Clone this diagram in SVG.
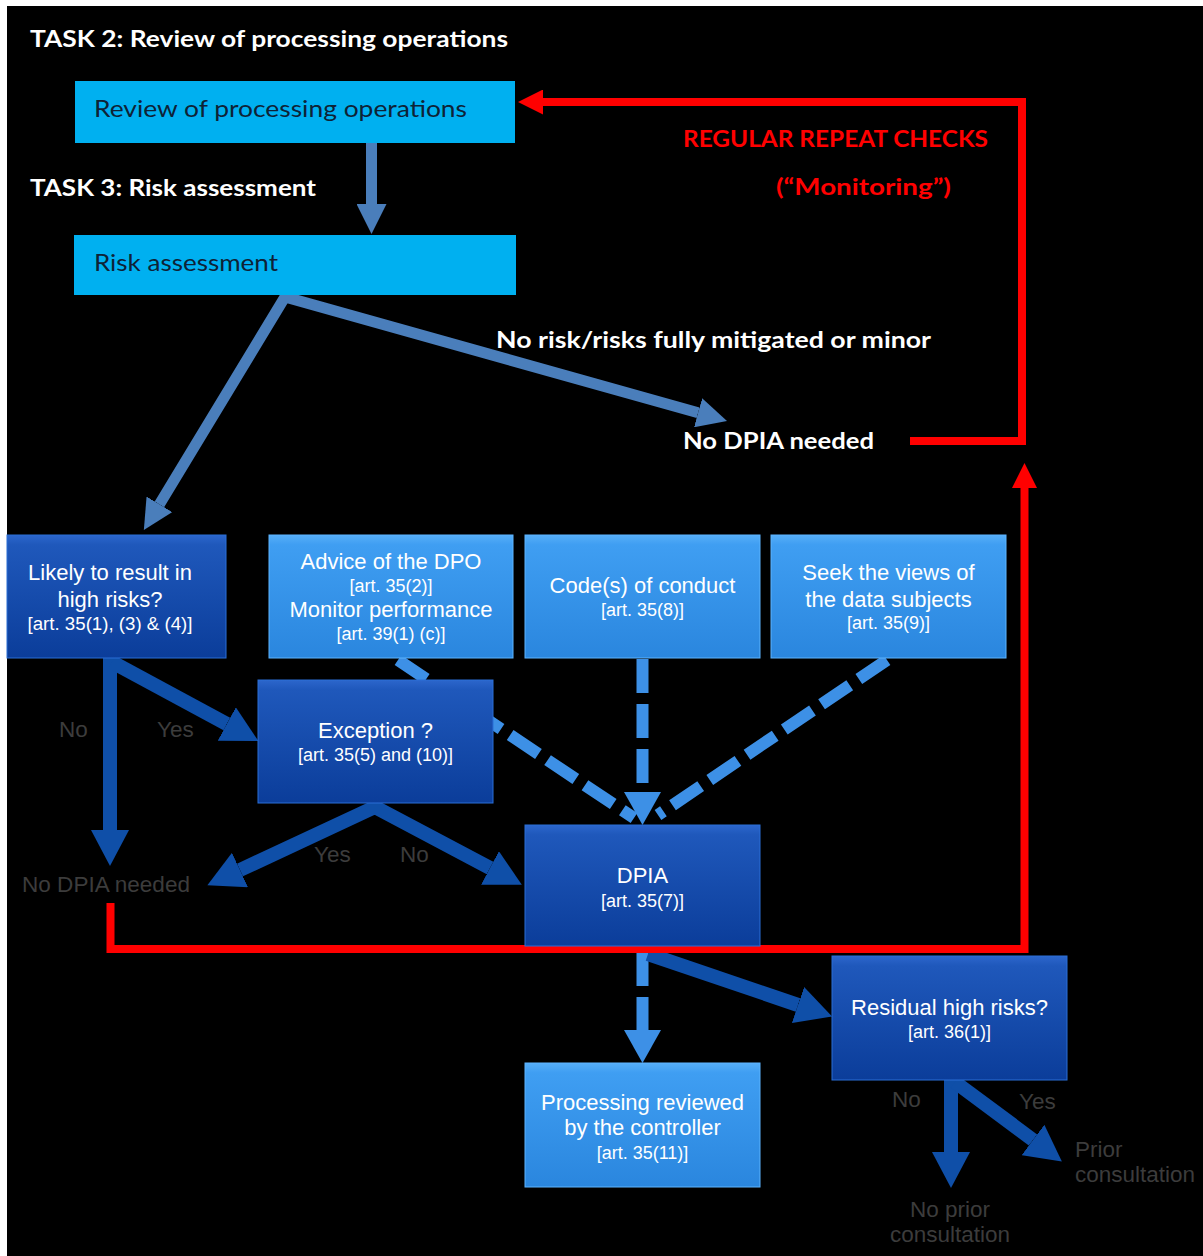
<svg xmlns="http://www.w3.org/2000/svg" width="1203" height="1256" viewBox="0 0 1203 1256">
  <defs>
    <style>
      .hdr { font-family: Lato, "Open Sans", "Liberation Sans", sans-serif; font-weight: 700; font-size: 23px; fill: #ffffff; }
      .red { font-family: Lato, "Open Sans", "Liberation Sans", sans-serif; font-weight: 700; font-size: 22px; fill: #ff0000; }
      .cy { font-family: Lato, "Open Sans", "Liberation Sans", sans-serif; font-size: 23px; fill: #0e2236; }
      .bt { font-family: "Liberation Sans", Arial, sans-serif; font-size: 22px; fill: #ffffff; text-anchor: middle; }
      .bs { font-family: "Liberation Sans", Arial, sans-serif; font-size: 18px; fill: #ffffff; text-anchor: middle; }
      .gl { font-family: "Liberation Sans", Arial, sans-serif; font-size: 22.5px; fill: #3c3c3c; }
      .steel { fill: none; stroke: #4a7ebb; stroke-width: 11; stroke-linejoin: miter; }
      .dark { fill: none; stroke: #0f4fa8; stroke-width: 14; }
      .dash { fill: none; stroke: #3d90e6; stroke-width: 12; stroke-dasharray: 34 11; }
      .redl { fill: none; stroke: #ff0000; stroke-width: 8; stroke-linejoin: miter; }
      .cyan { fill: #00b0f0; }
      .dbox { fill: url(#gDark); stroke: #2a6fd6; stroke-width: 1; }
      .lbox { fill: url(#gLight); stroke: #5cb4ff; stroke-width: 1; }
    </style>
    <linearGradient id="gDark" x1="0" y1="0" x2="0" y2="1">
      <stop offset="0" stop-color="#2c66cc"/>
      <stop offset="0.08" stop-color="#1f58bb"/>
      <stop offset="1" stop-color="#0b3d9a"/>
    </linearGradient>
    <linearGradient id="gLight" x1="0" y1="0" x2="0" y2="1">
      <stop offset="0" stop-color="#56aef8"/>
      <stop offset="0.08" stop-color="#3f9ef2"/>
      <stop offset="1" stop-color="#2a86de"/>
    </linearGradient>
    <marker id="mSteel" markerUnits="userSpaceOnUse" markerWidth="30" markerHeight="30" refX="0" refY="15" orient="auto-start-reverse" viewBox="0 0 30 30">
      <path d="M0,0 L30,15 L0,30 z" fill="#4a7ebb"/>
    </marker>
    <marker id="mDark" markerUnits="userSpaceOnUse" markerWidth="36" markerHeight="38" refX="0" refY="19" orient="auto-start-reverse" viewBox="0 0 36 38">
      <path d="M0,0 L36,19 L0,38 z" fill="#0f4fa8"/>
    </marker>
    <marker id="mLight" markerUnits="userSpaceOnUse" markerWidth="33" markerHeight="37" refX="0" refY="18.5" orient="auto" viewBox="0 0 33 37">
      <path d="M0,0 L33,18.5 L0,37 z" fill="#3d90e6"/>
    </marker>
    <marker id="mRed" markerUnits="userSpaceOnUse" markerWidth="25" markerHeight="25" refX="0" refY="12.5" orient="auto" viewBox="0 0 25 25">
      <path d="M0,0 L25,12.5 L0,25 z" fill="#ff0000"/>
    </marker>
  </defs>

  <rect x="0" y="0" width="1203" height="1256" fill="#ffffff"/>
  <rect x="7" y="6" width="1196" height="1250" fill="#000000"/>

  <g id="headings">
    <text class="hdr" x="30" y="47" textLength="478" lengthAdjust="spacingAndGlyphs">TASK 2: Review of processing operations</text>
    <text class="hdr" x="30" y="196" textLength="286" lengthAdjust="spacingAndGlyphs">TASK 3: Risk assessment</text>
    <text class="red" x="683" y="147" textLength="305" lengthAdjust="spacingAndGlyphs">REGULAR REPEAT CHECKS</text>
    <text class="red" x="776" y="195" textLength="175" lengthAdjust="spacingAndGlyphs">(“Monitoring”)</text>
  </g>

  <g id="connectors">
    <line class="steel" x1="371.5" y1="143" x2="371.5" y2="204" marker-end="url(#mSteel)"/>
    <polyline class="steel" points="159.4,504.3 285,297 698.1,412.8" marker-start="url(#mSteel)" marker-end="url(#mSteel)"/>

    <line class="dash" x1="398" y1="660" x2="634" y2="818"/>
    <line class="dash" x1="887" y1="660" x2="658" y2="815"/>
    <line class="dash" x1="642.5" y1="659" x2="642.5" y2="792" marker-end="url(#mLight)"/>
    <line class="dash" x1="642.5" y1="952" x2="642.5" y2="1030" marker-end="url(#mLight)"/>

    <line class="dark" x1="110" y1="658" x2="110" y2="830" marker-end="url(#mDark)"/>
    <line class="dark" x1="112" y1="662" x2="226.8" y2="724" marker-end="url(#mDark)"/>
    <polyline class="dark" points="240,870 375,807 490,868" marker-start="url(#mDark)" marker-end="url(#mDark)"/>
    <line class="dark" x1="648" y1="954" x2="798" y2="1005" marker-end="url(#mDark)"/>
    <line class="dark" x1="951" y1="1080" x2="951" y2="1152" marker-end="url(#mDark)"/>
    <line class="dark" x1="955" y1="1082" x2="1033" y2="1140" marker-end="url(#mDark)"/>

    <path class="redl" d="M910,441 H1022 V102 H543" marker-end="url(#mRed)"/>
    <path class="redl" d="M110.5,903 V949 H1024.5 V488" marker-end="url(#mRed)"/>
  </g>

  <g id="n-review">
    <rect class="cyan" x="75" y="81" width="440" height="62"/>
    <text class="cy" x="94" y="117" textLength="373" lengthAdjust="spacingAndGlyphs">Review of processing operations</text>
  </g>
  <g id="n-risk">
    <rect class="cyan" x="74" y="235" width="442" height="60"/>
    <text class="cy" x="94" y="271" textLength="184" lengthAdjust="spacingAndGlyphs">Risk assessment</text>
  </g>

  <g id="n-nodpia-top">
    <text class="hdr" x="496" y="348" textLength="435" lengthAdjust="spacingAndGlyphs">No risk/risks fully mitigated or minor</text>
    <text class="hdr" x="683" y="449" textLength="191" lengthAdjust="spacingAndGlyphs">No DPIA needed</text>
  </g>

  <g id="n-likely">
    <rect class="dbox" x="7" y="535" width="219" height="123"/>
    <text class="bt" x="110" y="580">Likely to result in</text>
    <text class="bt" x="110" y="607">high risks?</text>
    <text class="bs" x="110" y="630" textLength="165" lengthAdjust="spacingAndGlyphs">[art. 35(1), (3) &amp; (4)]</text>
  </g>
  <g id="n-dpo">
    <rect class="lbox" x="269" y="535" width="244" height="123"/>
    <text class="bt" x="391" y="569">Advice of the DPO</text>
    <text class="bs" x="391" y="592">[art. 35(2)]</text>
    <text class="bt" x="391" y="617">Monitor performance</text>
    <text class="bs" x="391" y="640">[art. 39(1) (c)]</text>
  </g>
  <g id="n-code">
    <rect class="lbox" x="525" y="535" width="235" height="123"/>
    <text class="bt" x="642.5" y="593">Code(s) of conduct</text>
    <text class="bs" x="642.5" y="616">[art. 35(8)]</text>
  </g>
  <g id="n-seek">
    <rect class="lbox" x="771" y="535" width="235" height="123"/>
    <text class="bt" x="888.5" y="580">Seek the views of</text>
    <text class="bt" x="888.5" y="607">the data subjects</text>
    <text class="bs" x="888.5" y="629">[art. 35(9)]</text>
  </g>
  <g id="n-exception">
    <rect class="dbox" x="258" y="680" width="235" height="123"/>
    <text class="bt" x="375.5" y="738">Exception ?</text>
    <text class="bs" x="375.5" y="761">[art. 35(5) and (10)]</text>
  </g>
  <g id="n-dpia">
    <rect class="dbox" x="525" y="825" width="235" height="121"/>
    <text class="bt" x="642.5" y="883">DPIA</text>
    <text class="bs" x="642.5" y="907">[art. 35(7)]</text>
  </g>
  <g id="n-residual">
    <rect class="dbox" x="832" y="956" width="235" height="124"/>
    <text class="bt" x="949.5" y="1015">Residual high risks?</text>
    <text class="bs" x="949.5" y="1038">[art. 36(1)]</text>
  </g>
  <g id="n-processing">
    <rect class="lbox" x="525" y="1063" width="235" height="124"/>
    <text class="bt" x="642.5" y="1110">Processing reviewed</text>
    <text class="bt" x="642.5" y="1135">by the controller</text>
    <text class="bs" x="642.5" y="1159">[art. 35(11)]</text>
  </g>

  <g id="labels">
    <text class="gl" x="59" y="737">No</text>
    <text class="gl" x="157" y="737">Yes</text>
    <text class="gl" x="22" y="892" textLength="168" lengthAdjust="spacingAndGlyphs">No DPIA needed</text>
    <text class="gl" x="314" y="862">Yes</text>
    <text class="gl" x="400" y="862">No</text>
    <text class="gl" x="892" y="1107">No</text>
    <text class="gl" x="1019" y="1109">Yes</text>
    <text class="gl" x="1075" y="1157">Prior</text>
    <text class="gl" x="1075" y="1182">consultation</text>
    <text class="gl" x="950" y="1217" text-anchor="middle">No prior</text>
    <text class="gl" x="950" y="1242" text-anchor="middle">consultation</text>
  </g>
</svg>
